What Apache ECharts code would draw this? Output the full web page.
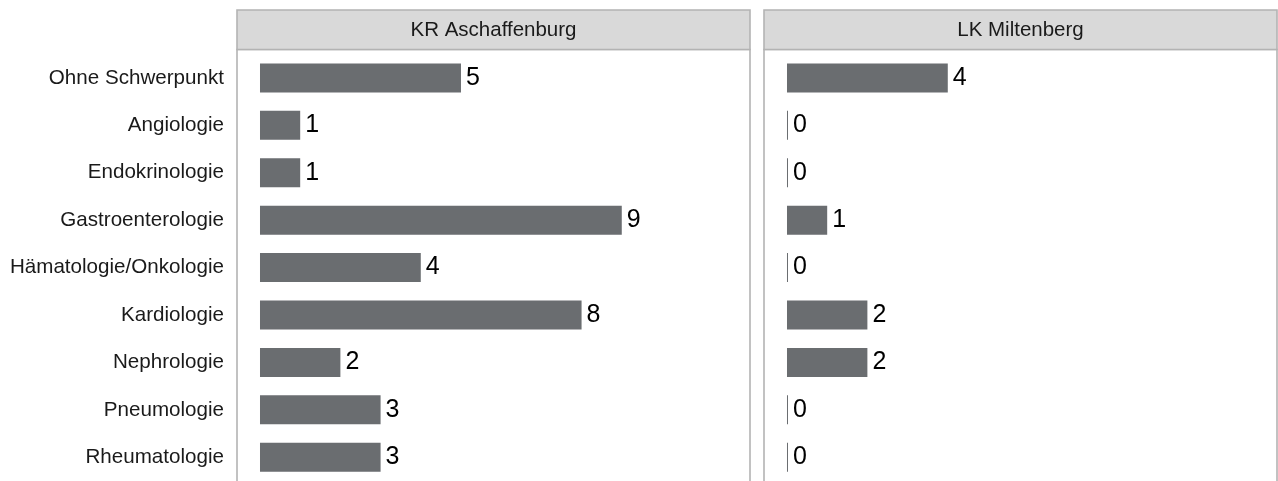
<!DOCTYPE html>
<html>
<head>
<meta charset="utf-8">
<script src="https://cdn.jsdelivr.net/npm/echarts@6/dist/echarts.min.js"></script>
<style>
html,body{margin:0;padding:0;background:#fff;}
#chart{width:1278px;height:481px;}
</style>
</head>
<body>
<div id="chart"></div>
<script>
const categories = ['Ohne Schwerpunkt','Angiologie','Endokrinologie','Gastroenterologie','Hämatologie/Onkologie','Kardiologie','Nephrologie','Pneumologie','Rheumatologie'];
const panelNames = ['KR Aschaffenburg','LK Miltenberg'];
const valuesKR = [5,1,1,9,4,8,2,3,3];
const valuesLK = [4,0,0,1,0,2,2,0,0];

const FONT = '"Liberation Sans", Arial, sans-serif';
const BAR = '#6a6d70';
const BORDER = '#b3b3b3';
const STRIP = '#d9d9d9';
const TEXT = '#1a1a1a';

const panelLeft = [237, 764];
const panelWidth = 513;
const plotTop = 54.2, plotHeight = 428.6;
const xMin = -0.572, xMax = 12.19;

const chart = echarts.init(document.getElementById('chart'), null, {renderer:'canvas'});

const seriesData = [valuesKR, valuesLK];

const graphics = [];
panelLeft.forEach((l, i) => {
  graphics.push({type:'rect', z:100, shape:{x:l, y:49.5, width:panelWidth, height:460}, style:{fill:null, stroke:BORDER, lineWidth:1.6}, silent:true});
  graphics.push({type:'rect', z:101, shape:{x:l, y:10, width:panelWidth, height:39.5}, style:{fill:STRIP, stroke:BORDER, lineWidth:1.6}, silent:true});
  graphics.push({type:'text', z:102, x:l + panelWidth/2, y:30, style:{text:panelNames[i], font:'20.5px ' + FONT, fill:TEXT, textAlign:'center', textVerticalAlign:'middle'}, silent:true});
});

const option = {
  animation:false,
  backgroundColor:'#fff',
  grid: panelLeft.map(l => ({left:l, width:panelWidth, top:plotTop, height:plotHeight, containLabel:false})),
  xAxis: panelLeft.map((l,i) => ({type:'value', gridIndex:i, min:xMin, max:xMax, show:false, splitLine:{show:false}})),
  yAxis: panelLeft.map((l,i) => ({
    type:'category', gridIndex:i, data:categories, inverse:true,
    axisLine:{show:false}, axisTick:{show:false}, splitLine:{show:false},
    axisLabel:{show:i===0, fontSize:20.6, fontFamily:FONT, color:TEXT, margin:13}
  })),
  series: seriesData.map((d,i) => ({
    type:'bar', xAxisIndex:i, yAxisIndex:i, data:d,
    barWidth:29, barMinHeight:1,
    itemStyle:{color:BAR},
    label:{show:true, position:'right', distance:5, fontSize:25, fontFamily:FONT, color:'#000'},
    silent:true
  })),
  graphic: graphics
};
chart.setOption(option);
</script>
</body>
</html>
